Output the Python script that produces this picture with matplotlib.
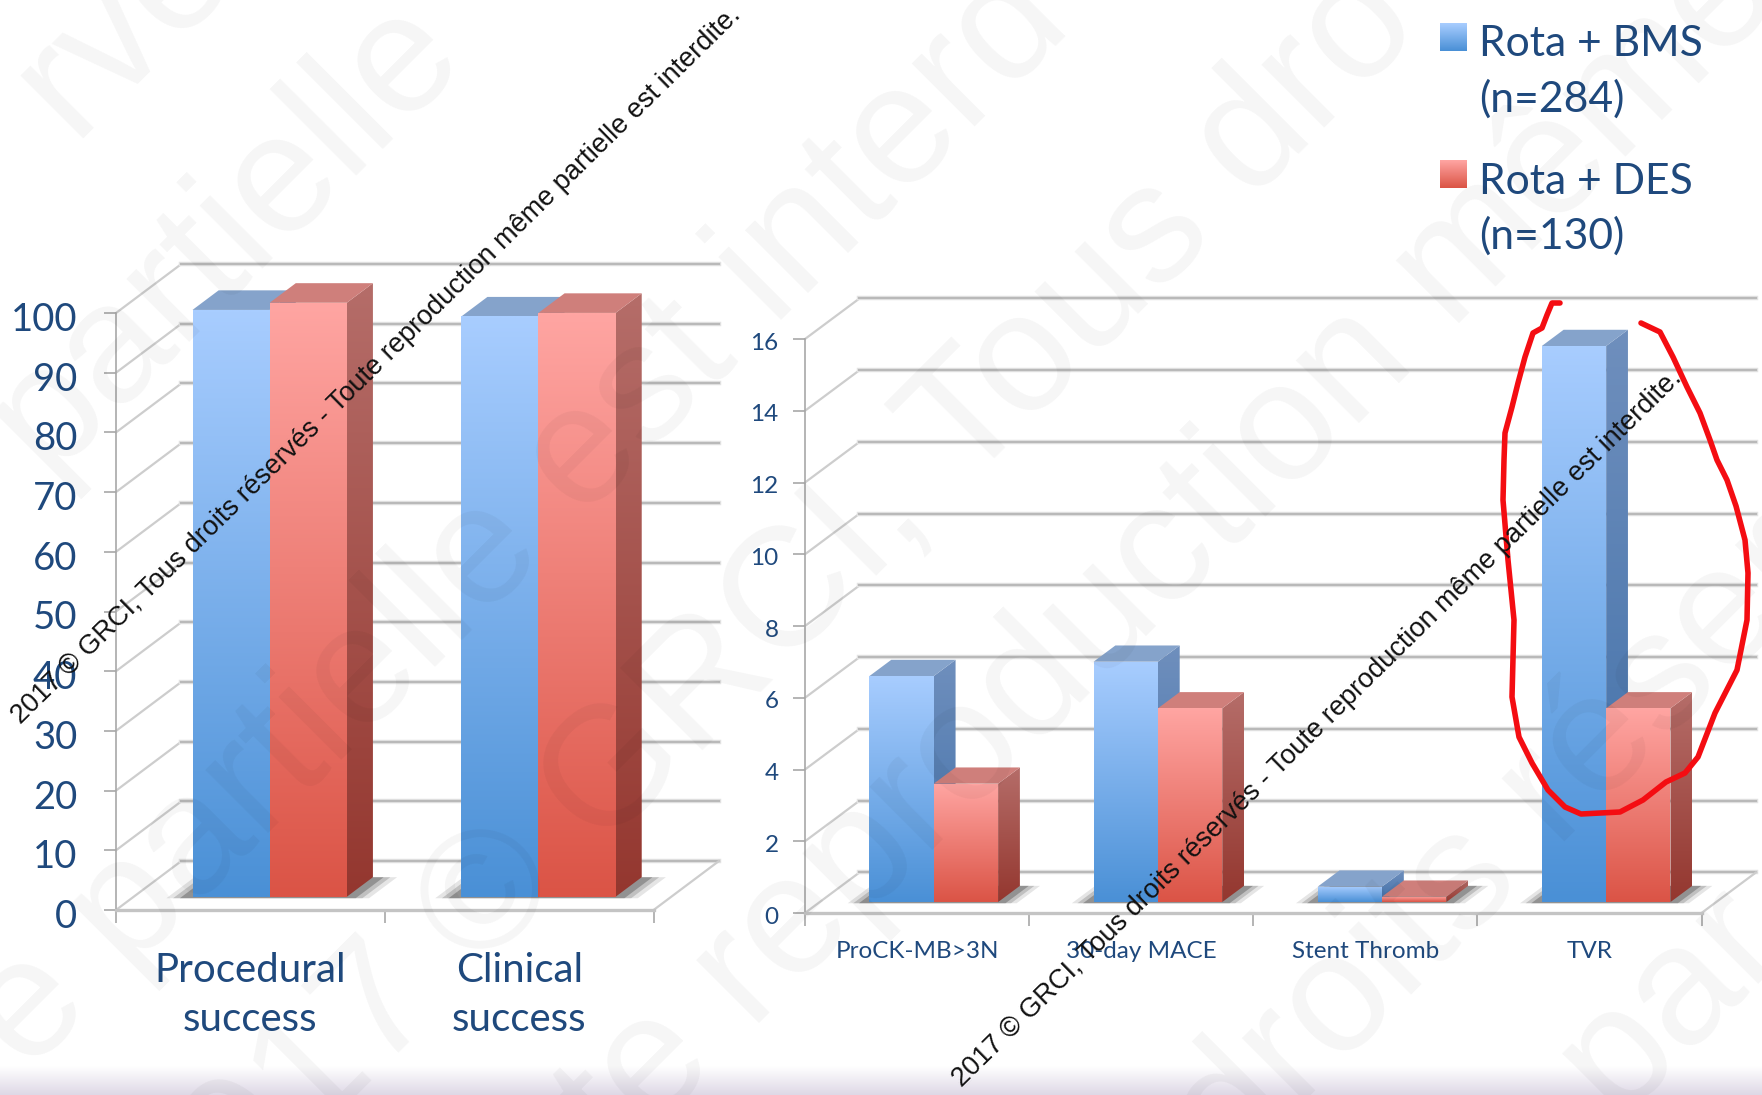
import numpy as np
import matplotlib
matplotlib.use("Agg")
from matplotlib import pyplot as plt
from matplotlib.patches import Polygon
from matplotlib.transforms import ScaledTranslation

# success rates (%)
success_categories = ["Procedural\nsuccess", "Clinical\nsuccess"]
success_bms = [98.3, 97.2]
success_des = [99.5, 97.8]
success_ticks = [0, 10, 20, 30, 40, 50, 60, 70, 80, 90, 100]

# adverse events (%)
event_categories = ["ProCK-MB>3N", "30-day MACE", "Stent Thromb", "TVR"]
event_bms = [6.3, 6.7, 0.43, 15.5]
event_des = [3.3, 5.4, 0.15, 5.4]
event_ticks = [0, 2, 4, 6, 8, 10, 12, 14, 16]

legend_labels = ["Rota + BMS\n(n=284)", "Rota + DES\n(n=130)"]
copyright_text = "2017 © GRCI, Tous droits réservés - Toute reproduction même partielle est interdite."

# hand drawn ring around TVR
ring = [(1560, 303), (1552, 303), (1547, 315), (1542, 328), (1533, 333), (1525, 357),
        (1518, 383), (1512, 407), (1505, 433), (1504, 460), (1503, 500), (1508, 560),
        (1514, 620), (1512, 697), (1519, 737), (1532, 763), (1548, 790), (1565, 807),
        (1581, 814), (1620, 812), (1643, 800), (1666, 782), (1685, 773), (1698, 757),
        (1715, 713), (1737, 670), (1747, 620), (1748, 573), (1745, 540), (1736, 506),
        (1727, 480), (1717, 460), (1710, 440), (1700, 413), (1687, 387), (1673, 357),
        (1660, 332), (1641, 323)]

# faint background lettering: text, centre x, centre y
watermarks = [
    ("rvé", 125, 25),
    ("partielle", 225, 235),
    ("e partielle est interd", 520, 520),
    ("2017 © GRCI, Tous dro", 770, 620),
    ("te reproduction même", 1170, 550),
    ("droits réserv", 1530, 815),
    ("par", 1670, 1000),
]

W, H = 1762, 1095
BLUE = {"front": ("#a8cdff", "#4a90d6"), "side": ("#6f8fbd", "#3f6fa8"), "top": "#85a3cb"}
RED = {"front": ("#ffa5a2", "#db5446"), "side": ("#b56d69", "#94372f"), "top": "#cf7f7b"}
TEXT = "#1f497d"
GRID = "#b9b9b9"
WALL = "#cdcdcd"

plt.rcParams["font.family"] = ["Lato", "DejaVu Sans"]

fig = plt.figure(figsize=(W / 100, H / 100), dpi=100, facecolor="white")


def px_axes(x0, x1, y_bottom, y_top):
    return fig.add_axes([x0 / W, 1 - y_bottom / H, (x1 - x0) / W, (y_bottom - y_top) / H])


def face(ax, verts, top, bottom, z):
    # polygon filled with a vertical gradient
    xs = [v[0] for v in verts]
    ys = [v[1] for v in verts]
    c0 = np.array(matplotlib.colors.to_rgb(top))
    c1 = np.array(matplotlib.colors.to_rgb(bottom))
    t = np.linspace(0, 1, 128)[:, None]
    grad = (c0 * (1 - t) + c1 * t)[:, None, :]
    im = ax.imshow(grad, extent=[min(xs), max(xs), min(ys), max(ys)], aspect="auto", zorder=z,
                   interpolation="bilinear")
    im.set_clip_box(fig.bbox)
    im.set_clip_path(Polygon(verts, transform=ax.transData))


def draw_chart(ax, categories, bms, des, ticks, depth_y, gap, font, label_font, tick_pad, label_pad, spacing,
               label_shift):
    n = len(categories)
    ymax = ticks[-1]
    depth_x = 0.243
    width = 0.287
    d0, bar_depth = 0.27, 0.4

    def project(x, v, d):
        return (x + d * depth_x, v + d * depth_y)

    # walls and floor
    for tick in ticks:
        ax.plot(*zip(project(0, tick, 0), project(0, tick, 1)), color=WALL, lw=1.6, zorder=1, clip_on=False)
        ax.plot(*zip(project(0, tick, 1), project(n, tick, 1)), color="#e4e4e4", lw=3.2, zorder=1, clip_on=False)
        ax.plot(*zip(project(0, tick, 1), project(n, tick, 1)), color=GRID, lw=1.6, zorder=1, clip_on=False)
    ax.plot(*zip(project(n, 0, 0), project(n, 0, 1)), color=WALL, lw=1.6, zorder=1, clip_on=False)

    for i in range(n):
        for k, (vals, style) in enumerate(((bms, BLUE), (des, RED))):
            x0 = i + gap + k * width
            x1 = x0 + width
            v = vals[i]
            z = 3 + i + (1 - k) * 0.1 + k * 0.3
            a, b = project(x0, 0, d0), project(x1, 0, d0)
            c, d = project(x0, v, d0), project(x1, v, d0)
            e, f = project(x0, v, d0 + bar_depth), project(x1, v, d0 + bar_depth)
            g = project(x1, 0, d0 + bar_depth)
            if k == 1:
                # soft floor shadow of the pair
                for grow, alpha in ((0.09, 0.10), (0.065, 0.16), (0.04, 0.24)):
                    sx0 = i + gap - grow
                    sx1 = i + gap + 2 * width + grow
                    ax.add_patch(Polygon([project(sx0, 0, d0 - 0.03), project(sx1, 0, d0 - 0.03),
                                          project(sx1, 0, d0 + bar_depth), project(sx0, 0, d0 + bar_depth)],
                                         closed=True, facecolor="black", edgecolor="none", alpha=alpha,
                                         zorder=2, clip_on=False))
            face(ax, [b, g, f, d], style["side"][0], style["side"][1], z)
            ax.add_patch(Polygon([c, d, f, e], closed=True, facecolor=style["top"], edgecolor="none",
                                 zorder=z, clip_on=False))
            face(ax, [a, b, d, c], style["front"][0], style["front"][1], z + 0.05)

    ax.set_xlim(0, n)
    ax.set_ylim(0, ymax)
    ax.patch.set_alpha(0)
    for side in ("top", "right"):
        ax.spines[side].set_visible(False)
    ax.spines["left"].set_color("#a8a8a8")
    ax.spines["left"].set_linewidth(1.2)
    ax.spines["bottom"].set_color("#c4c4c4")
    ax.spines["bottom"].set_linewidth(2.4)
    ax.set_xticks(range(n + 1))
    ax.set_xticklabels([])
    ax.set_xticks(np.arange(n) + 0.5, minor=True)
    ax.set_xticklabels(categories, minor=True, fontsize=label_font, color=TEXT, linespacing=spacing)
    ax.set_yticks(ticks)
    ax.set_yticklabels([str(t) for t in ticks], fontsize=font, color=TEXT)
    ax.tick_params(axis="x", which="major", length=9, width=1.2, color="#a8a8a8")
    ax.tick_params(axis="x", which="minor", length=0, pad=label_pad)
    ax.tick_params(axis="y", length=9, width=1.2, color="#a8a8a8", pad=tick_pad)
    # digits sit a little below their ticks
    nudge = ScaledTranslation(0, -label_shift / 72, fig.dpi_scale_trans)
    for lab in ax.get_yticklabels():
        lab.set_transform(lab.get_transform() + nudge)


ax_left = px_axes(116, 653.6, 910, 313)
draw_chart(ax_left, success_categories, success_bms, success_des, success_ticks, 8.2, 0.219, 27.5, 29, 19, 30,
           1.41, 2.5)

ax_right = px_axes(805, 1701.5, 913, 339)
draw_chart(ax_right, event_categories, event_bms, event_des, event_ticks, 1.13, 0.222, 17.5, 17.5, 10, 20.5,
           1.0, 1.5)

# page layer in pixel coordinates
page = fig.add_axes([0, 0, 1, 1], zorder=10)
page.set_axis_off()
page.patch.set_alpha(0)

t = np.linspace(0, 1, 64)[:, None]
shade = np.array([222, 216, 230]) / 255.0
page.imshow((shade * t + (1 - t))[:, None, :], extent=[0, W, 1095, 1066], aspect="auto", zorder=1)

for label, y_top, style in zip(legend_labels, (24, 161), (BLUE, RED)):
    grad_t = np.linspace(0, 1, 32)[:, None]
    c0 = np.array(matplotlib.colors.to_rgb(style["front"][0]))
    c1 = np.array(matplotlib.colors.to_rgb(style["front"][1]))
    page.imshow((c0 * (1 - grad_t) + c1 * grad_t)[:, None, :], extent=[1440, 1467, y_top + 27.5, y_top],
                aspect="auto", zorder=2)
    page.text(1479, y_top + 1.5, label, fontsize=30.7, color=TEXT, va="top", ha="left", linespacing=1.48, zorder=3)

for word, cx, cy in watermarks:
    page.text(cx, cy, word, fontsize=122, family="Liberation Sans", color="black", alpha=0.04, rotation=45,
              ha="center", va="center", rotation_mode="anchor", zorder=4, clip_on=True)

page.plot(*zip(*ring), color="#f40d12", lw=4, solid_capstyle="round", solid_joinstyle="round", zorder=5)

for cx, cy in ((376, 365), (1317, 728)):
    page.text(cx, cy, copyright_text, fontsize=19.5, family="Liberation Sans", color="#111111", rotation=44.5,
              ha="center", va="center", rotation_mode="anchor", zorder=6)

page.set_xlim(0, W)
page.set_ylim(H, 0)

fig.savefig("out.png", dpi=100, facecolor="white")
